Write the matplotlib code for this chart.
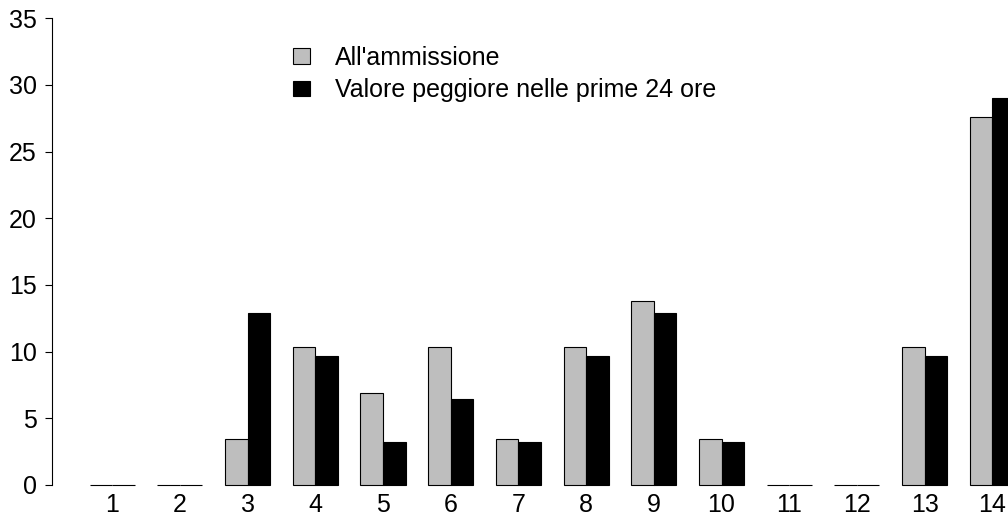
import numpy as np
import matplotlib
matplotlib.use('Agg')
import matplotlib.pyplot as plt
from matplotlib.patches import Patch

plt.rcParams['font.family'] = ['Liberation Sans', 'DejaVu Sans']

categorie = [str(i) for i in range(1, 15)]
ammissione = [0, 0, 3.45, 10.34, 6.90, 10.34, 3.45, 10.34, 13.79, 3.45, 0, 0, 10.34, 27.59]
peggiore = [0, 0, 12.90, 9.68, 3.23, 6.45, 3.23, 9.68, 12.90, 3.23, 0, 0, 9.68, 29.03]
yticks = [0, 5, 10, 15, 20, 25, 30, 35]

W, H = 1008, 520
fig = plt.figure(figsize=(W / 100, H / 100), dpi=100)

# asse: y=0 a 485 px, y=35 a 18.3 px
y_bot = 485
y_top = 18.3
left_px = 52
ax = fig.add_axes([left_px / W, (H - y_bot) / H, 1 - left_px / W, (y_bot - y_top) / H])

# barplot stile R: space=c(0,1)
g = np.arange(len(categorie))
x_gray = 3 * g + 1
x_black = 3 * g + 2
ax.bar(x_gray, ammissione, width=1, align='edge', color='#bebebe',
       edgecolor='black', linewidth=0.8, clip_on=False)
ax.bar(x_black, peggiore, width=1, align='edge', color='black',
       edgecolor='black', linewidth=0.8, clip_on=False)

unit = 67.7 / 3
ax.set_xlim(2 - (112.2 - left_px) / unit, 2 + (W - 112.2) / unit)
ax.set_ylim(0, 35)

for s in ['top', 'right', 'bottom']:
    ax.spines[s].set_visible(False)
ax.spines['left'].set_bounds(0, 35)
ax.spines['left'].set_linewidth(0.8)

ax.set_yticks(yticks)
ax.set_yticklabels([str(v) for v in yticks], fontsize=18)
ax.tick_params(axis='y', length=5, width=0.8, pad=6)

ax.set_xticks(3 * g + 2)
ax.set_xticklabels(categorie, fontsize=18)
ax.tick_params(axis='x', length=0, pad=6)

handles = [Patch(facecolor='#bebebe', edgecolor='black', linewidth=0.8),
           Patch(facecolor='black', edgecolor='black', linewidth=0.8)]
ax.legend(handles, ["All'ammissione", 'Valore peggiore nelle prime 24 ore'],
          loc='upper left', bbox_to_anchor=(293 / W, 1 - 46 / H),
          bbox_transform=fig.transFigure, frameon=False, fontsize=18,
          borderpad=0, borderaxespad=0, handlelength=0.68, handleheight=0.6,
          handletextpad=1.0, labelspacing=0.33)

fig.savefig('out.png', dpi=100)
